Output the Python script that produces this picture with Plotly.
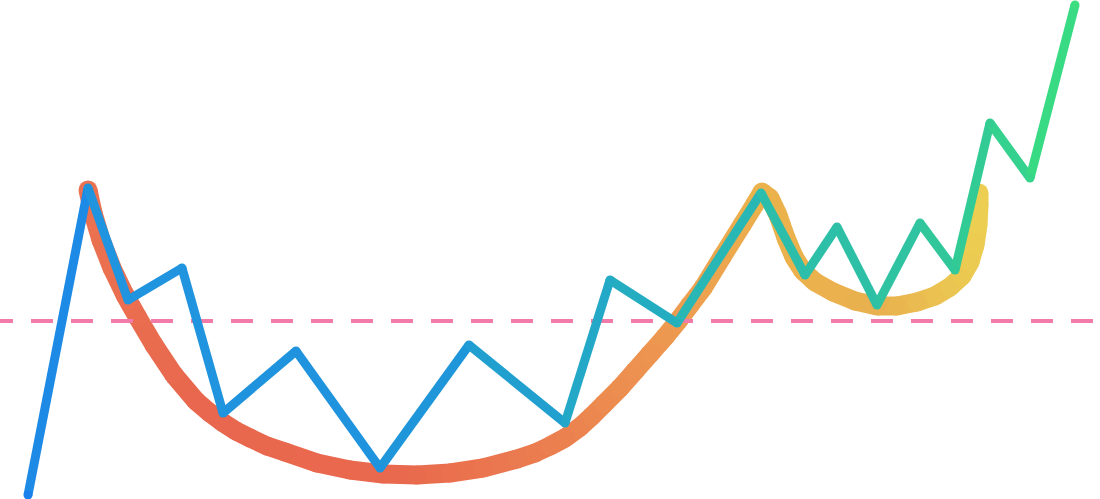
import plotly.graph_objects as go

# ---- data (time index, price) ----
price_x = [28, 88, 128, 182, 223, 296, 380, 469, 565, 610, 677, 761, 805, 837, 877, 920, 955, 990, 1030, 1075]
price_y = [4, 311, 199, 231, 86, 148, 31, 154, 76, 219, 176, 306, 224, 272, 194, 276, 229, 376, 321, 494]

cup_x = [88, 93, 101, 112, 125, 138, 154, 174, 196, 210, 222, 236, 250, 267, 285, 317, 350, 383, 417, 450,
         483, 517, 535, 550, 565, 580, 592, 604, 620, 635, 650, 665, 678, 690, 703, 722, 742, 755, 762,
         770, 778, 786, 794, 803, 815, 833, 855, 877, 897, 917, 935, 950, 962, 970, 975, 978, 979, 979]
cup_y = [309, 286, 259, 231, 204, 181, 154, 124, 98, 86, 77, 68, 61, 53, 47, 36, 29, 25, 24, 26,
         31, 40, 46, 53, 61, 72, 83, 95, 111, 128, 145, 162, 178, 194, 211, 242, 274, 295, 307,
         301, 284, 261, 242, 228, 217, 207, 198, 193, 193, 197, 203, 212, 223, 237, 254, 274, 294, 306]

resistance_level = 178

# colour stops along the time axis
zig_stops = [(0, "#1877f2"), (90, "#2094de"), (400, "#1f93dd"), (560, "#22a5cb"), (680, "#25b1bb"),
             (760, "#2bbdad"), (880, "#2ec1a4"), (990, "#33cd92"), (1080, "#3cdf7e")]
cup_stops = [(80, "#eb7350"), (200, "#e8674e"), (400, "#e9694e"), (560, "#eb804f"), (680, "#ed9b50"),
             (760, "#ebb24c"), (880, "#e9b04f"), (985, "#ecd052")]


def hex2rgb(h):
    h = h.lstrip("#")
    return [int(h[i:i + 2], 16) for i in (0, 2, 4)]


def color_at(x, stops):
    if x <= stops[0][0]:
        return stops[0][1]
    if x >= stops[-1][0]:
        return stops[-1][1]
    for (x0, c0), (x1, c1) in zip(stops[:-1], stops[1:]):
        if x0 <= x <= x1:
            t = (x - x0) / (x1 - x0)
            a, b = hex2rgb(c0), hex2rgb(c1)
            r = [round(a[i] + (b[i] - a[i]) * t) for i in range(3)]
            return "rgb(%d,%d,%d)" % tuple(r)
    return stops[-1][1]


fig = go.Figure()


def add_gradient_line(xs, ys, stops, width):
    for i in range(len(xs) - 1):
        mid = (xs[i] + xs[i + 1]) / 2
        fig.add_trace(go.Scatter(
            x=[xs[i], xs[i + 1]], y=[ys[i], ys[i + 1]], mode="lines",
            line=dict(color=color_at(mid, stops), width=width),
            hoverinfo="skip", showlegend=False))
    fig.add_trace(go.Scatter(
        x=xs, y=ys, mode="markers",
        marker=dict(size=width, color=[color_at(v, stops) for v in xs], line=dict(width=0)),
        hoverinfo="skip", showlegend=False))


# cup and handle
add_gradient_line(cup_x, cup_y, cup_stops, 19)

# resistance line
fig.add_trace(go.Scatter(
    x=[-9, 1120], y=[resistance_level, resistance_level], mode="lines",
    line=dict(color="#f27ca9", width=4, dash="22px,18px"),
    hoverinfo="skip", showlegend=False))

# price path
add_gradient_line(price_x, price_y, zig_stops, 9)

fig.update_layout(
    width=1100, height=499,
    margin=dict(l=0, r=0, t=0, b=0),
    paper_bgcolor="white", plot_bgcolor="white",
    xaxis=dict(range=[0, 1100], visible=False, fixedrange=True),
    yaxis=dict(range=[0, 499], visible=False, fixedrange=True),
    showlegend=False,
)

fig.write_html("out.html", config={"displayModeBar": False},
               post_script="document.body.style.margin='0';document.body.style.overflow='hidden';")
